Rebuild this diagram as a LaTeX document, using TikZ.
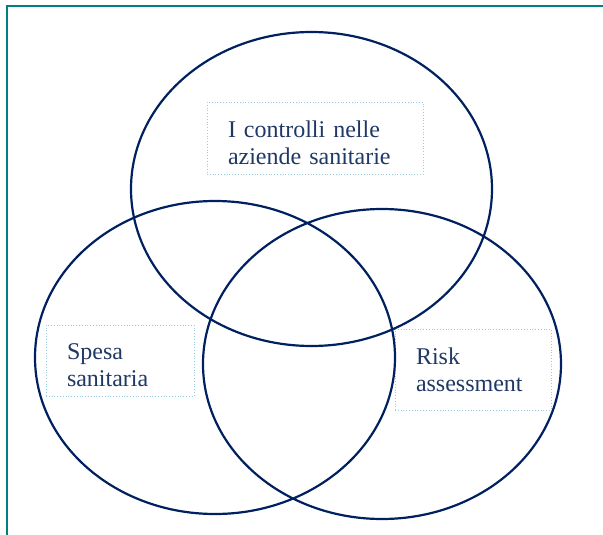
\documentclass[tikz,border=0pt]{standalone}
\usepackage{fontspec}
\setmainfont{Liberation Serif}
\definecolor{navy}{RGB}{0,32,96}
\definecolor{inkblue}{RGB}{31,56,100}
\definecolor{dotblue}{RGB}{150,205,225}
\definecolor{frameteal}{RGB}{0,128,128}

\begin{document}
\begin{tikzpicture}[x=1pt,y=-1pt,
    txtbox/.style={draw=dotblue,dotted,thick,text=inkblue,align=left,
      inner xsep=21pt,inner ysep=0pt,
      font=\fontsize{24}{27}\selectfont}]
  \useasboundingbox (0,0) rectangle (603,535);
  % frame
  \draw[frameteal,line width=2pt]
    (7,535) -- (7,6.5) -- (603,6.5);
  % labels
  \node[txtbox,text width=174pt,minimum height=72pt] (ctrl) at (315,138)
    {\rule{0pt}{27pt}I controlli nelle\\aziende sanitarie};
  \node[txtbox,text width=106pt,minimum height=71pt] (spesa) at (120,360.5)
    {\rule{0pt}{26pt}Spesa\\sanitaria};
  \node[txtbox,text width=114pt,minimum height=81pt] (risk) at (473,369.5)
    {Risk\\assessment};
  % sets
  \draw[navy,line width=2.2pt]
    (311.5,189) ellipse [x radius=180.5pt,y radius=157pt]
    (215,357.5) ellipse [x radius=180pt,y radius=156.5pt]
    (382,364) ellipse [x radius=179pt,y radius=155pt];
\end{tikzpicture}
\end{document}
